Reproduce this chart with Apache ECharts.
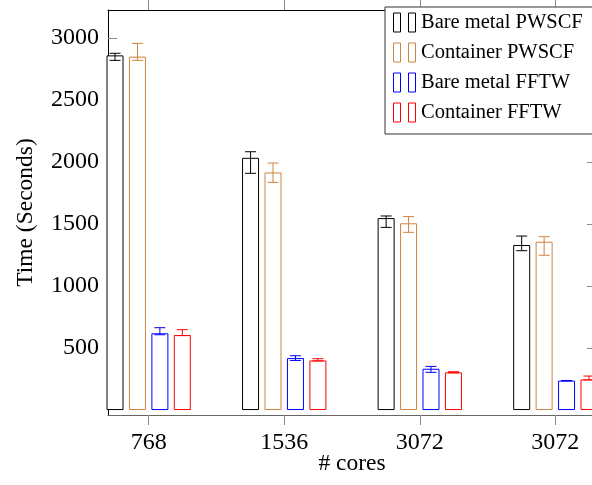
<!DOCTYPE html>
<html>
<head>
<meta charset="utf-8">
<script src="https://cdn.jsdelivr.net/npm/echarts@6/dist/echarts.min.js"></script>
<style>
    html, body { margin: 0; padding: 0; background: #fff; }
    #chart { width: 592px; height: 485px; }
</style>
</head>
<body>
<div id="chart"></div>
<script>
// categories on the x axis (# cores)
var categories = ['768', '1536', '3072', '3072'];
var yTicks = [500, 1000, 1500, 2000, 2500, 3000];

// Bare metal PWSCF
var bareMetalPwscf = [2860, 2034, 1548, 1331];
var bareMetalPwscfLow = [2820, 1909, 1473, 1285];
var bareMetalPwscfHigh = [2877, 2083, 1565, 1403];
// Container PWSCF
var containerPwscf = [2850, 1916, 1506, 1357];
var containerPwscfLow = [2820, 1836, 1433, 1248];
var containerPwscfHigh = [2957, 1992, 1560, 1398];
// Bare metal FFTW
var bareMetalFftw = [619, 419, 333, 237];
var bareMetalFftwLow = [607, 400, 304, 236];
var bareMetalFftwHigh = [664, 438, 352, 238];
// Container FFTW
var containerFftw = [605, 400, 304, 247];
var containerFftwLow = [600, 396, 300, 243];
var containerFftwHigh = [648, 414, 309, 274];

var FONT = 'Liberation Serif';
var BAR_W = 17;
var CAP = 5.5;

var seriesDefs = [
    {name: 'Bare metal PWSCF', color: '#000000', v: bareMetalPwscf, lo: bareMetalPwscfLow, hi: bareMetalPwscfHigh, off: -33.65},
    {name: 'Container PWSCF', color: '#cd853f', v: containerPwscf, lo: containerPwscfLow, hi: containerPwscfHigh, off: -11.2},
    {name: 'Bare metal FFTW', color: '#0000ff', v: bareMetalFftw, lo: bareMetalFftwLow, hi: bareMetalFftwHigh, off: 11.2},
    {name: 'Container FFTW', color: '#ff0000', v: containerFftw, lo: containerFftwLow, hi: containerFftwHigh, off: 33.65}
];

function errorRender(offset, color) {
    return function (params, api) {
        var x = api.value(0);
        var top = api.coord([x, api.value(2)]);
        var bot = api.coord([x, api.value(1)]);
        var cx = top[0] + offset;
        var st = {stroke: color, lineWidth: 1};
        return {
            type: 'group',
            children: [
                {type: 'line', shape: {x1: cx, y1: top[1], x2: cx, y2: bot[1]}, style: st},
                {type: 'line', shape: {x1: cx - CAP, y1: top[1], x2: cx + CAP, y2: top[1]}, style: st},
                {type: 'line', shape: {x1: cx - CAP, y1: bot[1], x2: cx + CAP, y2: bot[1]}, style: st}
            ]
        };
    };
}

var series = [];
var legendData = [];
seriesDefs.forEach(function (s) {
    var barData = [];
    var errData = [];
    for (var i = 0; i < categories.length; i++) {
        barData.push([i, s.v[i]]);
        errData.push([i, s.lo[i], s.hi[i]]);
    }
    series.push({
        name: s.name,
        type: 'bar',
        data: barData,
        barWidth: BAR_W,
        barGap: '32%',
        itemStyle: {color: '#ffffff', borderColor: s.color, borderWidth: 1},
        emphasis: {disabled: true},
        z: 2
    });
    series.push({
        type: 'custom',
        data: errData,
        encode: {x: 0, y: [1, 2]},
        renderItem: errorRender(s.off, s.color),
        z: 3,
        silent: true
    });
    legendData.push({
        name: s.name,
        icon: 'path://M0,0h7v19h-7zM15,0h7v19h-7z',
        itemStyle: {color: '#ffffff', borderColor: s.color, borderWidth: 1}
    });
});

var chart = echarts.init(document.getElementById('chart'));
chart.setOption({
    animation: false,
    backgroundColor: '#ffffff',
    textStyle: {fontFamily: FONT},
    grid: {left: 108, right: -4, top: 10, bottom: 70, containLabel: false, outerBoundsMode: 'none'},
    legend: {
        data: legendData,
        orient: 'vertical',
        left: 385,
        top: 7,
        padding: [4, 12, 10, 8],
        itemGap: 7,
        itemWidth: 23,
        itemHeight: 19,
        backgroundColor: '#ffffff',
        borderColor: '#333333',
        borderWidth: 1,
        textStyle: {fontFamily: FONT, fontSize: 20.5, color: '#000', lineHeight: 23},
        selectedMode: false
    },
    xAxis: [{
        type: 'value',
        min: -0.3,
        max: 3.3,
        name: '# cores',
        nameLocation: 'middle',
        nameGap: 37,
        nameMoveOverlap: false,
        nameTextStyle: {fontFamily: FONT, fontSize: 23.5, color: '#000'},
        axisLine: {show: true, onZero: false, lineStyle: {color: '#666', width: 1}},
        axisTick: {show: true, inside: false, length: 10, lineStyle: {color: '#888'}, customValues: [0, 1, 2, 3]},
        axisLabel: {
            fontFamily: FONT, fontSize: 24, color: '#000', margin: 16,
            customValues: [0, 1, 2, 3],
            formatter: function (v) { return categories[Math.round(v)]; }
        },
        splitLine: {show: false}
    }, {
        type: 'value',
        position: 'top',
        min: -0.3,
        max: 3.3,
        axisLine: {show: true, onZero: false, lineStyle: {color: '#000', width: 1}},
        axisTick: {show: true, inside: false, length: 10, lineStyle: {color: '#888'}, customValues: [0, 1, 2, 3]},
        axisLabel: {show: false},
        splitLine: {show: false}
    }],
    yAxis: [{
        type: 'value',
        min: -40,
        max: 3226,
        name: 'Time (Seconds)',
        nameLocation: 'middle',
        nameGap: 70,
        nameTextStyle: {fontFamily: FONT, fontSize: 23.5, color: '#000'},
        axisLine: {show: true, onZero: false, lineStyle: {color: '#000', width: 1}},
        axisTick: {show: true, inside: true, length: 9, lineStyle: {color: '#888'}, customValues: yTicks},
        axisLabel: {
            fontFamily: FONT, fontSize: 24, color: '#000', margin: 9, customValues: yTicks,
            formatter: function (v) { return String(v); }
        },
        splitLine: {show: false}
    }, {
        type: 'value',
        position: 'right',
        min: -40,
        max: 3226,
        axisLine: {show: true, onZero: false, lineStyle: {color: '#000', width: 1}},
        axisTick: {show: true, inside: true, length: 9, lineStyle: {color: '#888'}, customValues: yTicks},
        axisLabel: {show: false},
        splitLine: {show: false}
    }],
    series: series
});
</script>
</body>
</html>
